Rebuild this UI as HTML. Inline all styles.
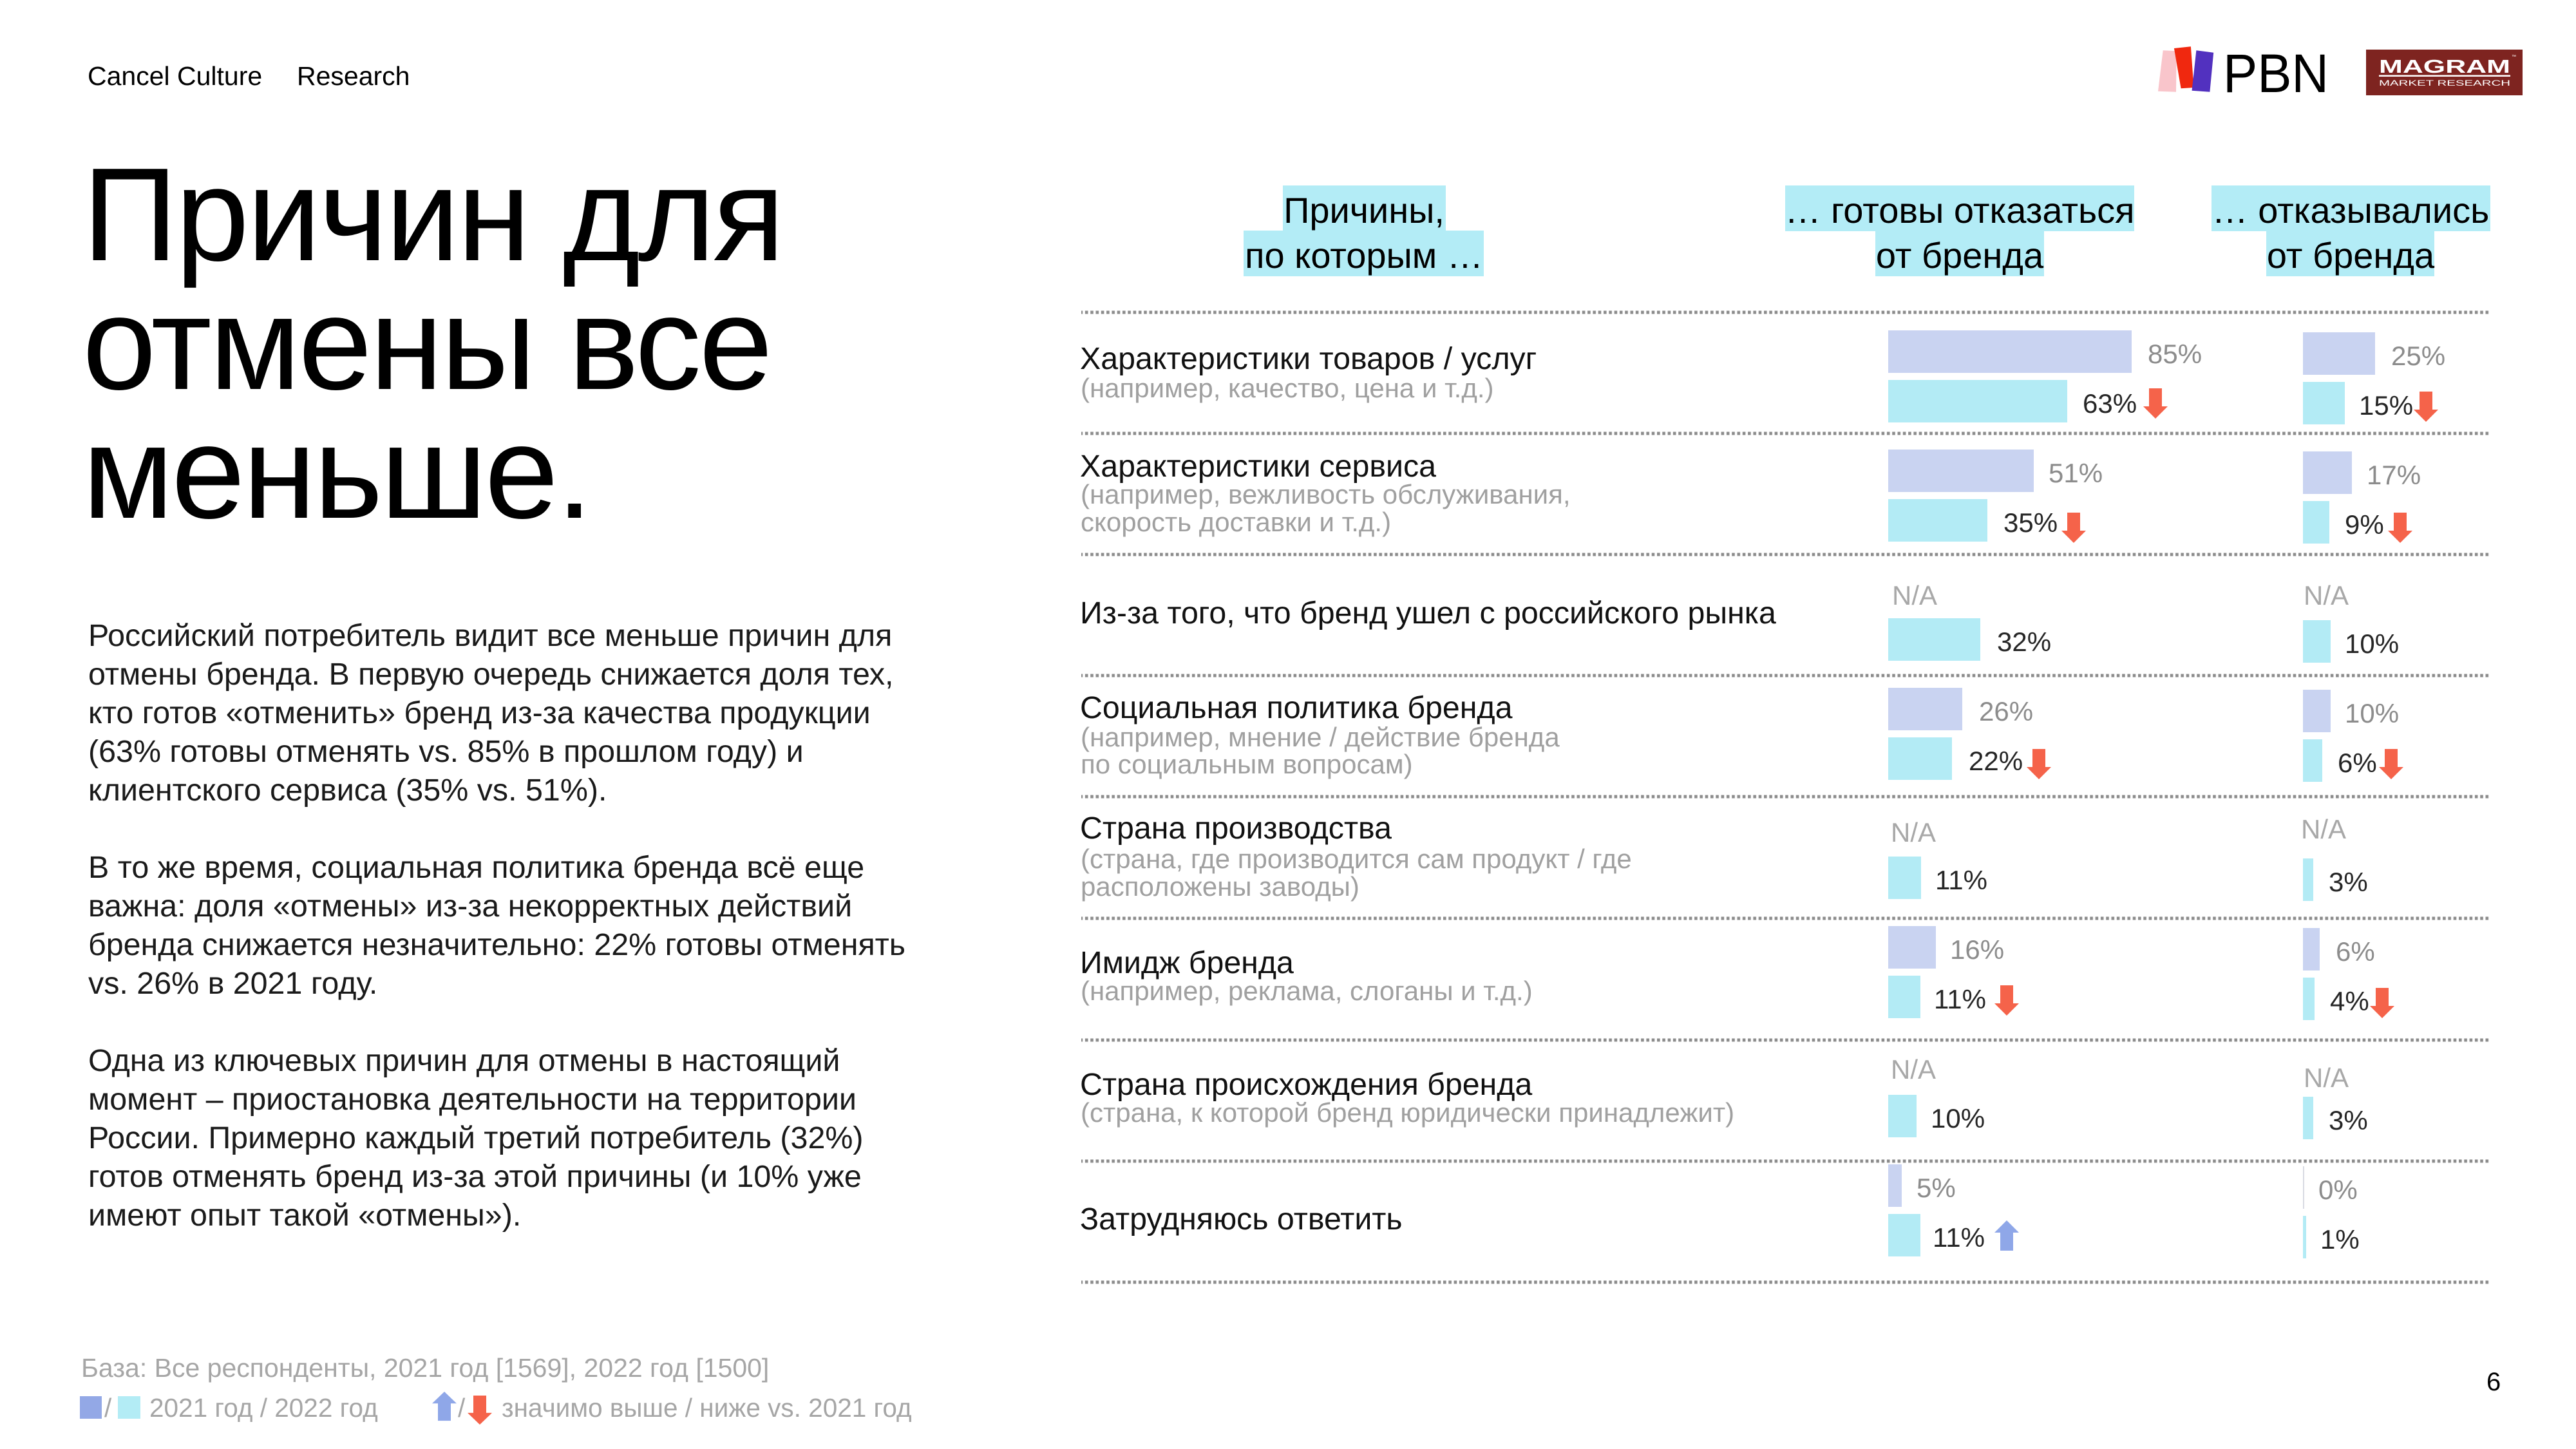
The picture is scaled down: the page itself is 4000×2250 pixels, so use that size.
<!DOCTYPE html>
<html>
<head>
<meta charset="utf-8">
<style>
html,body{margin:0;padding:0;background:#fff;}
body{width:4000px;height:2250px;overflow:hidden;}
svg{display:block;}
text{font-family:"Liberation Sans", Arial, sans-serif;}
</style>
</head>
<body>
<svg width="4000" height="2250" viewBox="0 0 4000 2250" xmlns="http://www.w3.org/2000/svg">
<defs>
  <pattern id="dots" patternUnits="userSpaceOnUse" width="8.3" height="1">
    <rect x="0" y="0" width="4.6" height="1" fill="#8c8c8c"/>
  </pattern>
  <g id="down">
    <rect x="9" y="0" width="20" height="29" fill="#f5634a"/>
    <polygon points="0,28 38,28 19,47" fill="#f5634a"/>
  </g>
  <g id="up">
    <polygon points="19,0 0,19 38,19" fill="#8fa7e8"/>
    <rect x="9" y="18" width="20" height="29" fill="#8fa7e8"/>
  </g>
</defs>
<rect x="0" y="0" width="4000" height="2250" fill="#fff"/>

<!-- Top left -->
<text x="136" y="132" font-size="41" fill="#000">Cancel Culture</text>
<text x="461" y="132" font-size="41" fill="#000">Research</text>

<!-- Title -->
<g font-size="206" fill="#000" letter-spacing="-3.6">
  <text x="128" y="404">Причин для</text>
  <text x="128" y="604">отмены все</text>
  <text x="128" y="804">меньше.</text>
</g>

<!-- Paragraphs -->
<g font-size="48.4" fill="#1a1a1a">
  <text x="137" y="1003">Российский потребитель видит все меньше причин для</text>
  <text x="137" y="1063">отмены бренда. В первую очередь снижается доля тех,</text>
  <text x="137" y="1123">кто готов «отменить» бренд из-за качества продукции</text>
  <text x="137" y="1183">(63% готовы отменять vs. 85% в прошлом году) и</text>
  <text x="137" y="1243">клиентского сервиса (35% vs. 51%).</text>
  <text x="137" y="1363">В то же время, социальная политика бренда всё еще</text>
  <text x="137" y="1423">важна: доля «отмены» из-за некорректных действий</text>
  <text x="137" y="1483">бренда снижается незначительно: 22% готовы отменять</text>
  <text x="137" y="1543">vs. 26% в 2021 году.</text>
  <text x="137" y="1663">Одна из ключевых причин для отмены в настоящий</text>
  <text x="137" y="1723">момент – приостановка деятельности на территории</text>
  <text x="137" y="1783">России. Примерно каждый третий потребитель (32%)</text>
  <text x="137" y="1843">готов отменять бренд из-за этой причины (и 10% уже</text>
  <text x="137" y="1903">имеют опыт такой «отмены»).</text>
</g>

<!-- Footer -->
<text x="126" y="2138" font-size="41" fill="#a6a6a6">База: Все респонденты, 2021 год [1569], 2022 год [1500]</text>
<rect x="124" y="2168" width="34" height="35" fill="#93a8e6"/>
<text x="162" y="2200" font-size="40.5" fill="#a6a6a6">/</text>
<rect x="183" y="2168" width="35" height="35" fill="#b3ecf5"/>
<text x="232" y="2200" font-size="40.5" fill="#a6a6a6">2021 год / 2022 год</text>
<g transform="translate(671,2161) scale(1,0.96)"><use href="#up"/></g>
<text x="711" y="2200" font-size="40.5" fill="#a6a6a6">/</text>
<g transform="translate(726,2167) scale(1,0.96)"><use href="#down"/></g>
<text x="779" y="2200" font-size="40.5" fill="#a6a6a6">значимо выше / ниже vs. 2021 год</text>

<text x="3861" y="2159" font-size="40" fill="#000">6</text>

<!-- Logos -->
<polygon points="3358.7,78.3 3379.8,79.3 3379,142.7 3351,141.7" fill="#f9c5cb"/>
<polygon points="3375.9,75 3401.9,72.3 3406.5,136 3386.6,137.3" fill="#f0280f"/>
<polygon points="3410.4,78.3 3437.2,81.7 3431.4,142.7 3403.5,140.7" fill="#5231bf"/>
<text x="3452" y="143" font-size="84" fill="#000" textLength="164" lengthAdjust="spacingAndGlyphs">PBN</text>

<rect x="3674" y="77" width="243" height="71" fill="#7e2420"/>
<text x="3694" y="113" font-size="29" font-weight="bold" fill="#fff" textLength="204" lengthAdjust="spacingAndGlyphs">MAGRAM</text>
<text x="3900" y="90" font-size="7" fill="#fff">™</text>
<rect x="3694" y="116.5" width="204" height="2.5" fill="#fff"/>
<text x="3694" y="133" font-size="12" fill="#fff" textLength="204" lengthAdjust="spacingAndGlyphs">MARKET RESEARCH</text>

<!-- Header highlights -->
<g fill="#b3ecf6">
  <rect x="1992" y="288" width="253" height="71"/>
  <rect x="1931" y="358" width="373" height="71"/>
  <rect x="2772" y="288" width="542" height="71"/>
  <rect x="2912" y="358" width="262" height="71"/>
  <rect x="3434" y="288" width="433" height="71"/>
  <rect x="3519" y="358" width="261" height="71"/>
</g>
<g font-size="56" fill="#000" text-anchor="middle">
  <text x="2118" y="346">Причины,</text>
  <text x="2118" y="416">по которым …</text>
  <text x="3043" y="346">… готовы отказаться</text>
  <text x="3043" y="416">от бренда</text>
  <text x="3650" y="346">… отказывались</text>
  <text x="3650" y="416">от бренда</text>
</g>

<!-- Separators -->
<g fill="url(#dots)">
  <rect x="1679" y="482.5" width="2188" height="5"/>
  <rect x="1679" y="670.5" width="2188" height="5"/>
  <rect x="1679" y="858.5" width="2188" height="5"/>
  <rect x="1679" y="1046.5" width="2188" height="5"/>
  <rect x="1679" y="1234.5" width="2188" height="5"/>
  <rect x="1679" y="1423.5" width="2188" height="5"/>
  <rect x="1679" y="1612.5" width="2188" height="5"/>
  <rect x="1679" y="1800.5" width="2188" height="5"/>
  <rect x="1679" y="1988.5" width="2188" height="5"/>
</g>

<!-- Row labels -->
<g font-size="48.3" fill="#111">
  <text x="1677" y="573">Характеристики товаров / услуг</text>
  <text x="1677" y="740">Характеристики сервиса</text>
  <text x="1677" y="968">Из-за того, что бренд ушел с российского рынка</text>
  <text x="1677" y="1115">Социальная политика бренда</text>
  <text x="1677" y="1302">Страна производства</text>
  <text x="1677" y="1511">Имидж бренда</text>
  <text x="1677" y="1700">Страна происхождения бренда</text>
  <text x="1677" y="1909">Затрудняюсь ответить</text>
</g>
<g font-size="42" fill="#a0a0a0">
  <text x="1678" y="617">(например, качество, цена и т.д.)</text>
  <text x="1678" y="782">(например, вежливость обслуживания,</text>
  <text x="1678" y="825">скорость доставки и т.д.)</text>
  <text x="1678" y="1159">(например, мнение / действие бренда</text>
  <text x="1678" y="1201">по социальным вопросам)</text>
  <text x="1678" y="1348">(страна, где производится сам продукт / где</text>
  <text x="1678" y="1391">расположены заводы)</text>
  <text x="1678" y="1553">(например, реклама, слоганы и т.д.)</text>
  <text x="1678" y="1742">(страна, к которой бренд юридически принадлежит)</text>
</g>

<!-- Bars 2021 (lavender) -->
<g fill="#c9d3f1">
  <rect x="2932" y="513" width="378" height="66"/>
  <rect x="2932" y="698" width="226" height="66"/>
  <rect x="2932" y="1068" width="115" height="66"/>
  <rect x="2932" y="1438" width="74" height="66"/>
  <rect x="2932" y="1808" width="21" height="66"/>
  <rect x="3576" y="516" width="112" height="66"/>
  <rect x="3576" y="701" width="76" height="66"/>
  <rect x="3576" y="1071" width="43" height="66"/>
  <rect x="3576" y="1441" width="26" height="66"/>
</g>
<rect x="3576" y="1811" width="2" height="66" fill="#d9dbe3"/>
<!-- Bars 2022 (cyan) -->
<g fill="#b3ebf5">
  <rect x="2932" y="590" width="278" height="66"/>
  <rect x="2932" y="775" width="154" height="66"/>
  <rect x="2932" y="960" width="143" height="66"/>
  <rect x="2932" y="1145" width="99" height="66"/>
  <rect x="2932" y="1330" width="51" height="66"/>
  <rect x="2932" y="1515" width="50" height="66"/>
  <rect x="2932" y="1700" width="44" height="66"/>
  <rect x="2932" y="1885" width="50" height="66"/>
  <rect x="3576" y="593" width="65" height="66"/>
  <rect x="3576" y="778" width="41" height="66"/>
  <rect x="3576" y="963" width="43" height="66"/>
  <rect x="3576" y="1148" width="30" height="66"/>
  <rect x="3576" y="1333" width="16" height="66"/>
  <rect x="3576" y="1518" width="18" height="66"/>
  <rect x="3576" y="1703" width="16" height="66"/>
  <rect x="3576" y="1888" width="5" height="66"/>
</g>

<!-- Values 2021 (grey) -->
<g font-size="42" fill="#8c8c8c">
  <text x="3335" y="564">85%</text>
  <text x="3713" y="567">25%</text>
  <text x="3181" y="749">51%</text>
  <text x="3675" y="752">17%</text>
  <text x="3073" y="1119">26%</text>
  <text x="3641" y="1122">10%</text>
  <text x="3028" y="1489">16%</text>
  <text x="3627" y="1492">6%</text>
  <text x="2976" y="1859">5%</text>
  <text x="3600" y="1862">0%</text>
</g>
<!-- N/A -->
<g font-size="42" fill="#a8a8a8">
  <text x="2938" y="939">N/A</text>
  <text x="3577" y="939">N/A</text>
  <text x="2936" y="1307">N/A</text>
  <text x="3573" y="1302">N/A</text>
  <text x="2936" y="1675">N/A</text>
  <text x="3577" y="1688">N/A</text>
</g>
<!-- Values 2022 (dark) -->
<g font-size="42" fill="#262626">
  <text x="3234" y="641">63%</text>
  <text x="3663" y="644">15%</text>
  <text x="3111" y="826">35%</text>
  <text x="3641" y="829">9%</text>
  <text x="3101" y="1011">32%</text>
  <text x="3641" y="1014">10%</text>
  <text x="3057" y="1196">22%</text>
  <text x="3630" y="1199">6%</text>
  <text x="3005" y="1381">11%</text>
  <text x="3616" y="1384">3%</text>
  <text x="3003" y="1566">11%</text>
  <text x="3618" y="1569">4%</text>
  <text x="2998" y="1751">10%</text>
  <text x="3616" y="1754">3%</text>
  <text x="3001" y="1936">11%</text>
  <text x="3603" y="1939">1%</text>
</g>

<!-- Arrows -->
<use href="#down" x="3328" y="603"/>
<use href="#down" x="3748" y="608"/>
<use href="#down" x="3201" y="796"/>
<use href="#down" x="3708" y="796"/>
<use href="#down" x="3147" y="1163"/>
<use href="#down" x="3694" y="1163"/>
<use href="#down" x="3097" y="1530"/>
<use href="#down" x="3680" y="1534"/>
<use href="#up" x="3097" y="1895"/>
</svg>
</body>
</html>
